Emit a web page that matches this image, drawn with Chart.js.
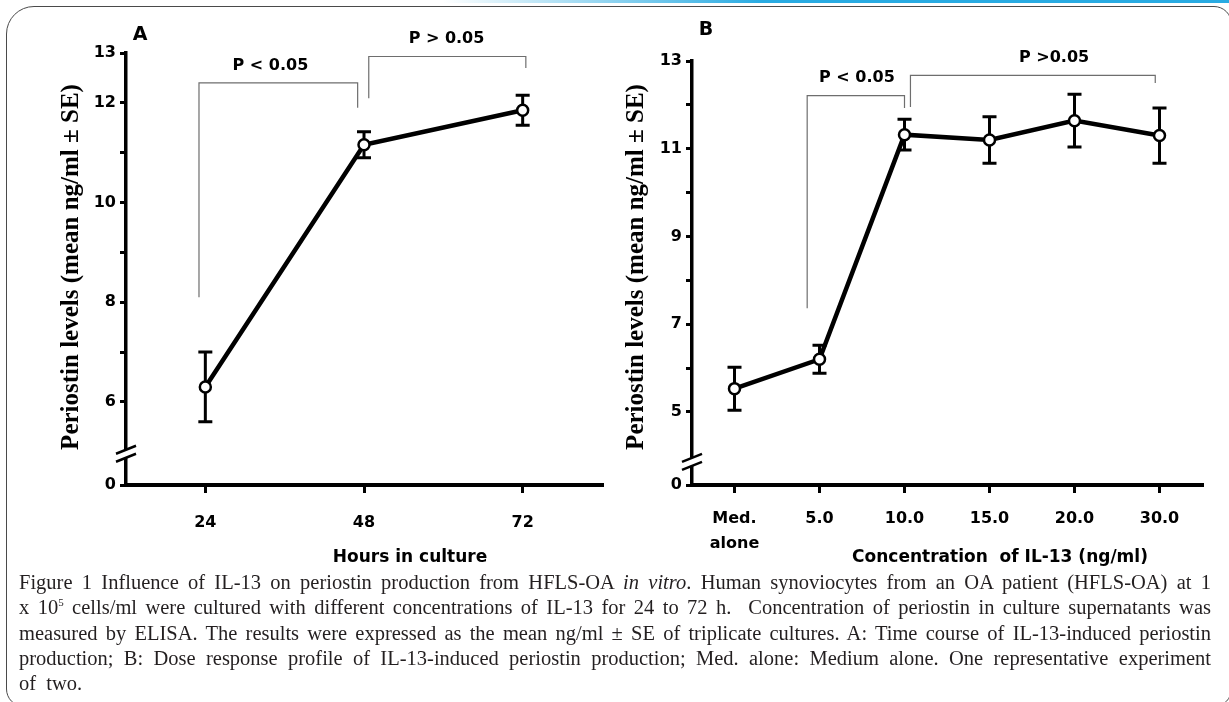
<!DOCTYPE html>
<html>
<head>
<meta charset="utf-8">
<title>Periostin production</title>
<script src="https://cdn.jsdelivr.net/npm/chart.js@4.4.1/dist/chart.umd.min.js"></script>
<style>
body{margin:0;width:1229px;height:702px;background:#fff;position:relative;overflow:hidden}
#topline{position:absolute;left:0;top:0;width:1229px;height:3px;background:linear-gradient(to right,rgba(41,171,226,0) 36%,#29abe2 62%)}
#frame{position:absolute;left:6px;top:6px;width:1226px;height:701px;border:1.4px solid #4a4a4a;border-radius:28px 18px 18px 18px;box-sizing:border-box}
#boxA{position:absolute;left:0;top:0}
#boxB{position:absolute;left:610px;top:0}
#cap{position:absolute;left:19px;top:570px;width:1192px;font-family:"Liberation Serif","Times New Roman",serif;font-size:20.5px;line-height:25.3px;color:#231f20}
#cap div{white-space:nowrap;text-align:justify;text-align-last:justify}
#cap div.last{text-align-last:left}
#cap sup{font-size:11px;vertical-align:8px;line-height:0}
</style>
</head>
<body>
<div id="topline"></div>
<div id="frame"></div>
<div id="boxA"><canvas id="chartA" width="610" height="575"></canvas></div>
<div id="boxB"><canvas id="chartB" width="619" height="575"></canvas></div>
<div id="cap">
<div>Figure 1 Influence of IL-13 on periostin production from HFLS-OA <i>in vitro</i>. Human synoviocytes from an OA patient (HFLS-OA) at 1</div>
<div>x 10<sup>5</sup> cells/ml were cultured with different concentrations of IL-13 for 24 to 72 h.&nbsp; Concentration of periostin in culture supernatants was</div>
<div>measured by ELISA. The results were expressed as the mean ng/ml ± SE of triplicate cultures. A: Time course of IL-13-induced periostin</div>
<div>production; B: Dose response profile of IL-13-induced periostin production; Med. alone: Medium alone. One representative experiment</div>
<div class="last">of&nbsp; two.</div>
</div>
<script>
// panel A : time course
var hoursLabels=['24','48','72'];
var hoursMean=[6.3,11.16,11.85];
var hoursSE=[0.7,0.26,0.3];
var hoursTicks=[6,7,8,9,10,11,12,13];
var hoursTickText=[6,8,10,12,13];
var hoursBrackets=[
    {x1:-0.04,x2:0.96,y:12.4,leg1:8.1,leg2:11.9,text:'P < 0.05',tx:0.41,ty:12.74},
    {x1:1.03,x2:2.02,y:12.93,leg1:12.09,leg2:12.7,text:'P > 0.05',tx:1.52,ty:13.28}
];

// panel B : dose response
var doseLabels=[['Med.','alone'],'5.0','10.0','15.0','20.0','30.0'];
var doseMean=[5.53,6.2,11.32,11.2,11.64,11.3];
var doseSE=[0.49,0.32,0.35,0.53,0.6,0.63];
var doseTicks=[5,6,7,8,9,10,11,12,13];
var doseTickText=[5,7,9,11,13];
var doseBrackets=[
    {x1:0.855,x2:2.0,y:12.21,leg1:7.36,leg2:11.93,text:'P < 0.05',tx:1.44,ty:12.62},
    {x1:2.07,x2:4.95,y:12.67,leg1:11.95,leg2:12.5,text:'P >0.05',tx:3.76,ty:13.08}
];

var tickFont={family:'DejaVu Sans',weight:'bold',size:16,lineHeight:1.56};

function makeChart(id,p){
    var extras={
        id:'extras'+id,
        beforeDatasetsDraw:function(chart){
            // error bars (mean +- SE)
            var ctx=chart.ctx,xs=chart.scales.x,ys=chart.scales.y;
            ctx.save();
            ctx.strokeStyle='#000';
            ctx.lineWidth=3;
            p.mean.forEach(function(m,i){
                var px=xs.getPixelForValue(i);
                var top=ys.getPixelForValue(m+p.se[i]);
                var bot=ys.getPixelForValue(m-p.se[i]);
                ctx.beginPath();
                ctx.moveTo(px,top);ctx.lineTo(px,bot);
                ctx.moveTo(px-7,top);ctx.lineTo(px+7,top);
                ctx.moveTo(px-7,bot);ctx.lineTo(px+7,bot);
                ctx.stroke();
            });
            ctx.restore();
        },
        afterDraw:function(chart){
            var ctx=chart.ctx,a=chart.chartArea,xs=chart.scales.x,ys=chart.scales.y;
            ctx.save();
            // axis break
            var yb=ys.getPixelForValue(p.breakAt);
            ctx.fillStyle='#fff';
            ctx.fillRect(a.left-3,yb-4,6,8);
            ctx.strokeStyle='#000';
            ctx.lineWidth=2.5;
            [-4,4].forEach(function(d){
                ctx.beginPath();
                ctx.moveTo(a.left-10,yb+d+4);
                ctx.lineTo(a.left+10,yb+d-4);
                ctx.stroke();
            });
            // significance brackets
            ctx.strokeStyle='#6e6e6e';
            ctx.lineWidth=1.2;
            ctx.fillStyle='#000';
            ctx.font='bold 16px "DejaVu Sans"';
            ctx.textAlign='center';
            ctx.textBaseline='middle';
            p.brackets.forEach(function(b){
                var x1=xs.getPixelForValue(b.x1),x2=xs.getPixelForValue(b.x2),yy=ys.getPixelForValue(b.y);
                ctx.beginPath();
                ctx.moveTo(x1,ys.getPixelForValue(b.leg1));
                ctx.lineTo(x1,yy);
                ctx.lineTo(x2,yy);
                ctx.lineTo(x2,ys.getPixelForValue(b.leg2));
                ctx.stroke();
                ctx.fillText(b.text,xs.getPixelForValue(b.tx),ys.getPixelForValue(b.ty));
            });
            // panel letter
            ctx.font='bold 19px "DejaVu Sans"';
            ctx.fillText(p.letter,a.left+14,p.letterY);
            // x title
            ctx.font='bold 17px "DejaVu Sans"';
            ctx.fillText(p.xTitle,(a.left+a.right)/2+p.xTitleDx,558);
            // y title
            ctx.translate(p.yTitleX,267);
            ctx.rotate(-Math.PI/2);
            ctx.font='bold 25px "Liberation Serif"';
            ctx.fillText('Periostin levels (mean ng/ml \u00b1 SE)',0,0);
            ctx.restore();
        }
    };
    return new Chart(document.getElementById(id),{
        type:'line',
        data:{
            labels:p.labels,
            datasets:[{
                data:p.mean,
                borderColor:'#000',
                borderWidth:4.5,
                pointRadius:5.5,
                pointBorderWidth:2.5,
                pointBackgroundColor:'#fff',
                pointBorderColor:'#000',
                tension:0
            }]
        },
        options:{
            responsive:false,
            animation:false,
            layout:{padding:{left:0,top:p.top,right:p.right,bottom:0}},
            plugins:{legend:{display:false},tooltip:{enabled:false}},
            scales:{
                x:{
                    offset:true,
                    grid:{drawOnChartArea:false,tickLength:8,lineWidth:3,color:'#000'},
                    border:{color:'#000',width:4},
                    ticks:{color:'#000',font:tickFont,padding:p.xPad,maxRotation:0,autoSkip:false},
                    afterFit:function(s){s.height=575-485;}
                },
                y:{
                    min:p.min,
                    max:13,
                    afterBuildTicks:function(s){
                        s.ticks=[p.min].concat(p.ticks).map(function(v){return {value:v};});
                    },
                    grid:{drawOnChartArea:false,tickLength:6,lineWidth:3,color:'#000'},
                    border:{color:'#000',width:3.5},
                    ticks:{
                        color:'#000',font:tickFont,padding:4,autoSkip:false,
                        callback:function(v){
                            if(Math.abs(v-p.min)<1e-6) return '0';
                            return p.tickText.indexOf(v)>=0?String(v):'';
                        }
                    },
                    afterFit:function(s){s.width=p.yWidth;}
                }
            }
        },
        plugins:[extras]
    });
}

makeChart('chartA',{
    labels:hoursLabels,mean:hoursMean,se:hoursSE,ticks:hoursTicks,tickText:hoursTickText,
    brackets:hoursBrackets,min:4.333,breakAt:4.96,
    top:53,right:7,yWidth:126,xPad:17,
    letter:'A',letterY:35,xTitle:'Hours in culture',xTitleDx:46,yTitleX:72
});
makeChart('chartB',{
    labels:doseLabels,mean:doseMean,se:doseSE,ticks:doseTicks,tickText:doseTickText,
    brackets:doseBrackets,min:3.333,breakAt:3.86,
    top:61,right:27,yWidth:82,xPad:13,
    letter:'B',letterY:30,xTitle:'Concentration  of IL-13 (ng/ml)',xTitleDx:53,yTitleX:27
});
</script>
</body>
</html>
